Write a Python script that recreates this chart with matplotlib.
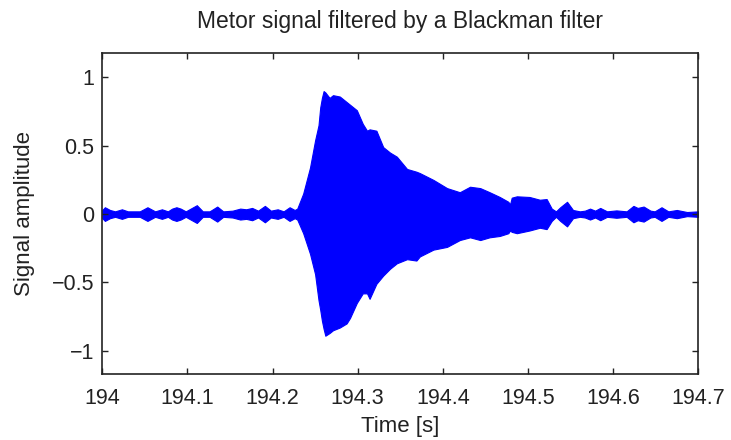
import matplotlib
matplotlib.use("Agg")
import matplotlib.pyplot as plt
import numpy as np

# Envelope of the filtered meteor signal
time_s = [194.000, 194.003, 194.009, 194.015, 194.023, 194.030, 194.044, 194.053,
          194.062, 194.070, 194.077, 194.082, 194.087, 194.092, 194.098, 194.111,
          194.118, 194.126, 194.135, 194.142, 194.153, 194.162, 194.169, 194.176,
          194.183, 194.191, 194.198, 194.206, 194.213, 194.220, 194.226,
          194.229, 194.236, 194.244, 194.250, 194.254, 194.256, 194.258, 194.260,
          194.262, 194.267, 194.271, 194.279, 194.287, 194.291, 194.299, 194.306,
          194.311, 194.314, 194.322, 194.330, 194.338, 194.346, 194.358, 194.369,
          194.373, 194.389, 194.405, 194.420, 194.432, 194.444, 194.455, 194.467,
          194.477, 194.479, 194.481, 194.487, 194.502, 194.514, 194.522, 194.528,
          194.533, 194.538, 194.546, 194.553, 194.561, 194.567, 194.573, 194.579,
          194.585, 194.593, 194.604, 194.616, 194.624, 194.629, 194.636, 194.644,
          194.649, 194.657, 194.665, 194.675, 194.687, 194.700]
upper_amp = [0.03, 0.05, 0.03, 0.02, 0.035, 0.02, 0.02, 0.05,
             0.02, 0.035, 0.02, 0.04, 0.05, 0.04, 0.02, 0.065,
             0.02, 0.02, 0.055, 0.02, 0.025, 0.04, 0.035, 0.045,
             0.025, 0.06, 0.025, 0.035, 0.02, 0.05, 0.03,
             0.04, 0.15, 0.34, 0.54, 0.65, 0.78, 0.85, 0.90,
             0.89, 0.85, 0.87, 0.86, 0.82, 0.80, 0.76, 0.66,
             0.61, 0.62, 0.61, 0.49, 0.45, 0.42, 0.33, 0.31,
             0.30, 0.25, 0.19, 0.16, 0.20, 0.19, 0.16, 0.125,
             0.09, 0.07, 0.12, 0.13, 0.125, 0.105, 0.11, 0.04,
             0.02, 0.05, 0.09, 0.03, 0.02, 0.025, 0.04, 0.025,
             0.045, 0.02, 0.027, 0.02, 0.06, 0.045, 0.055, 0.025,
             0.02, 0.05, 0.02, 0.03, 0.015, 0.02]
lower_amp = [-0.03, -0.05, -0.03, -0.02, -0.035, -0.02, -0.02, -0.05,
             -0.02, -0.035, -0.02, -0.04, -0.05, -0.04, -0.02, -0.065,
             -0.02, -0.02, -0.055, -0.02, -0.025, -0.04, -0.035, -0.045,
             -0.025, -0.06, -0.025, -0.035, -0.02, -0.05, -0.03,
             -0.04, -0.14, -0.29, -0.44, -0.63, -0.70, -0.78, -0.84,
             -0.89, -0.87, -0.85, -0.83, -0.80, -0.76, -0.65, -0.58,
             -0.58, -0.62, -0.51, -0.45, -0.40, -0.36, -0.33, -0.34,
             -0.31, -0.26, -0.24, -0.19, -0.17, -0.19, -0.17, -0.16,
             -0.14, -0.12, -0.13, -0.14, -0.12, -0.10, -0.11, -0.05,
             -0.02, -0.05, -0.09, -0.03, -0.02, -0.025, -0.04, -0.025,
             -0.045, -0.02, -0.027, -0.02, -0.06, -0.045, -0.055, -0.025,
             -0.02, -0.05, -0.02, -0.03, -0.015, -0.02]

x_ticks = [194.0, 194.1, 194.2, 194.3, 194.4, 194.5, 194.6, 194.7]
x_tick_labels = ["194", "194.1", "194.2", "194.3", "194.4", "194.5", "194.6", "194.7"]
y_ticks = [-1, -0.5, 0, 0.5, 1]
y_tick_labels = ["\u22121", "\u22120.5", "0", "0.5", "1"]

plt.rcParams['font.family'] = ['Liberation Sans', 'DejaVu Sans']

fig = plt.figure(figsize=(7.31, 4.40), dpi=100)
ax = fig.add_axes([0.140, 0.150, 0.815, 0.730])

ax.fill_between(time_s, lower_amp, upper_amp, color='#0000ff', linewidth=0.8,
                edgecolor='#0000ff')

ax.set_xlim(194.0, 194.7)
ax.set_ylim(-1.17, 1.18)
ax.set_xticks(x_ticks)
ax.set_xticklabels(x_tick_labels)
ax.set_yticks(y_ticks)
ax.set_yticklabels(y_tick_labels)
ax.tick_params(direction='in', length=4, width=1, top=True, right=True,
               labelsize=15.5, colors='#222222')
ax.tick_params(axis='x', pad=10)
ax.tick_params(axis='y', pad=6)
for s in ax.spines.values():
    s.set_linewidth(1.2)
    s.set_color('#222222')

ax.set_title("Metor signal filtered by a Blackman filter", fontsize=16.5, pad=18,
             color='#222222')
ax.set_xlabel("Time [s]", fontsize=16, labelpad=5, color='#222222')
ax.set_ylabel("Signal amplitude", fontsize=16, labelpad=12, color='#222222')

fig.savefig("out.png", dpi=100)
